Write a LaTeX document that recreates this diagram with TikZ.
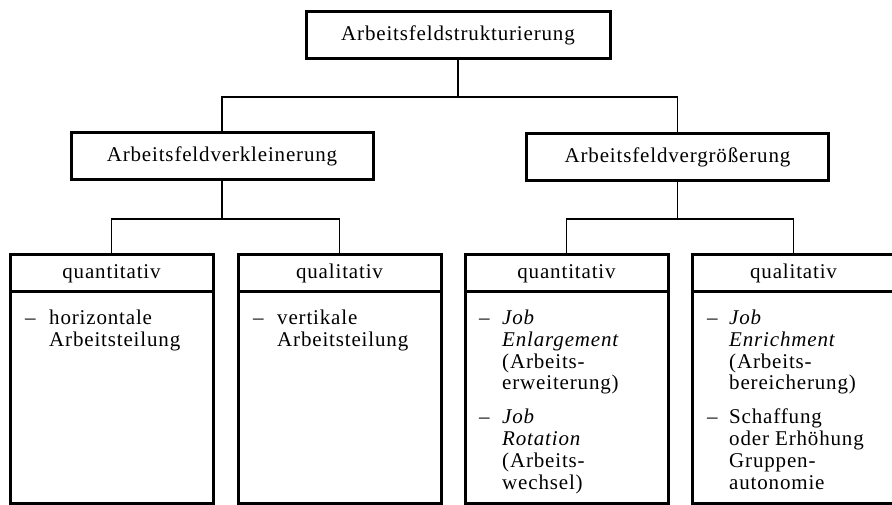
\documentclass[tikz,border=0pt]{standalone}
\usepackage{fontspec}
\setmainfont{Liberation Serif}[LetterSpace=4]
\usetikzlibrary{positioning}

\begin{document}
\begin{tikzpicture}[x=1pt, y=-1pt,
font=\fontsize{21}{22}\selectfont,
topbox/.style={rectangle, draw=black, line width=3pt, minimum width=304pt, minimum height=47pt, outer sep=0pt},
midbox/.style={rectangle, draw=black, line width=3pt, minimum width=302pt, minimum height=47pt, outer sep=0pt},
headbox/.style={rectangle, draw=black, line width=3pt, minimum width=203pt, minimum height=37pt, inner sep=0pt, outer sep=0pt},
bodybox/.style={rectangle, draw=black, line width=3pt, minimum width=203pt, minimum height=211pt, outer sep=0pt},
itemtext/.style={inner sep=0pt, align=left},
link/.style={line width=1.4pt},
]
\clip (0,0) rectangle (892,505);
\useasboundingbox (0,0) rectangle (892,505);

%Nodes
\node[topbox]      (top)       at (458,35.5)     {Arbeitsfeldstrukturierung};
\node[midbox]      (small)     at (222,156.5)    {Arbeitsfeldverkleinerung};
\node[midbox]      (large)     at (677.5,157)    {Arbeitsfeldvergrößerung};

\node[headbox]     (qnSmall)   at (111.5,273.5)             {quantitativ};
\node[headbox]     (qlSmall)   [right=25pt of qnSmall]      {qualitativ};
\node[headbox]     (qnLarge)   [right=24pt of qlSmall]      {quantitativ};
\node[headbox]     (qlLarge)   [right=24pt of qnLarge]      {qualitativ};

\node[bodybox]     (qnSmallBody)   [below=0pt of qnSmall]   {};
\node[bodybox]     (qlSmallBody)   [below=0pt of qlSmall]   {};
\node[bodybox]     (qnLargeBody)   [below=0pt of qnLarge]   {};
\node[bodybox]     (qlLargeBody)   [below=0pt of qlLarge]   {};

%Texts
\node[itemtext]    (qnSmallText)   [below right=32pt and 15pt of qnSmallBody.north west, anchor=base west]
  {\begin{tabular}[t]{@{}p{24pt}@{}l@{}}
   -- & horizontale\\
      & Arbeitsteilung
   \end{tabular}};
\node[itemtext]    (qlSmallText)   [below right=32pt and 15pt of qlSmallBody.north west, anchor=base west]
  {\begin{tabular}[t]{@{}p{24pt}@{}l@{}}
   -- & vertikale\\
      & Arbeitsteilung
   \end{tabular}};
\node[itemtext]    (qnLargeText)   [below right=32pt and 14pt of qnLargeBody.north west, anchor=base west]
  {\begin{tabular}[t]{@{}p{23pt}@{}l@{}}
   -- & \textit{Job}\\
      & \textit{Enlargement}\\
      & (Arbeits-\\
      & erweiterung)\\[11pt]
   -- & \textit{Job}\\
      & \textit{Rotation}\\
      & (Arbeits-\\
      & wechsel)
   \end{tabular}};
\node[itemtext]    (qlLargeText)   [below right=32pt and 15pt of qlLargeBody.north west, anchor=base west]
  {\begin{tabular}[t]{@{}p{22pt}@{}l@{}}
   -- & \textit{Job}\\
      & \textit{Enrichment}\\
      & (Arbeits-\\
      & bereicherung)\\[11pt]
   -- & Schaffung\\
      & oder Erhöhung\\
      & Gruppen-\\
      & autonomie
   \end{tabular}};

%Lines
\draw[link] (top.south) -- ++(0,38) -| (small.north);
\draw[link] (top.south) -- ++(0,38) -| (large.north);
\draw[link] (small.south) -- ++(0,39) -| (qnSmall.north);
\draw[link] (small.south) -- ++(0,39) -| (qlSmall.north);
\draw[link] (large.south) -- ++(0,38.5) -| (qnLarge.north);
\draw[link] (large.south) -- ++(0,38.5) -| (qlLarge.north);
\end{tikzpicture}
\end{document}
